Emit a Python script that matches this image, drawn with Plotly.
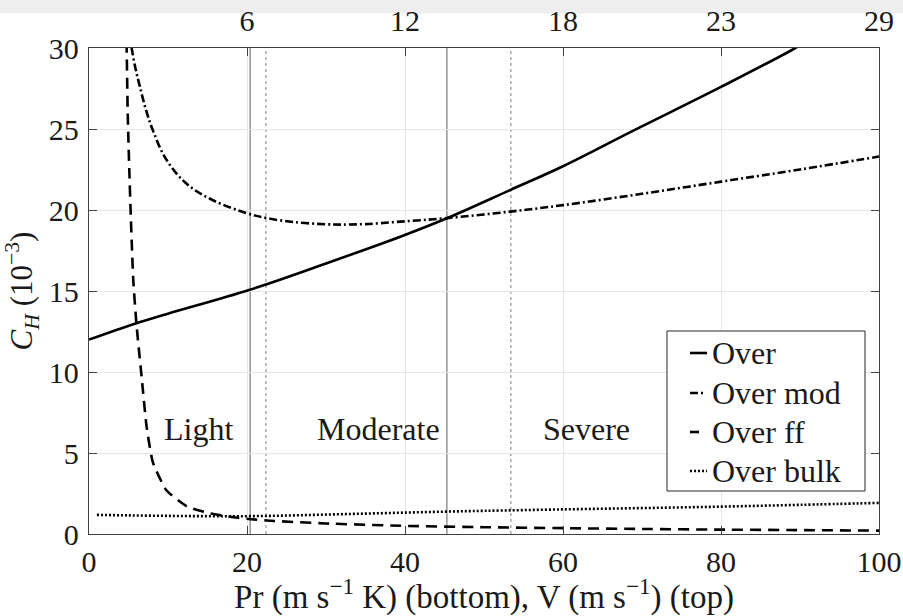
import plotly.graph_objects as go

# ---- data ----
over_x = [0, 5.9, 10, 20.25, 30, 39.4, 45.3, 53.3, 60, 68.9, 80, 89.4, 92]
over_y = [12.0, 13.0, 13.6, 15.06, 16.7, 18.35, 19.49, 21.23, 22.7, 24.9, 27.6, 30.0, 30.8]

mod_x = [5.1, 5.4, 5.9, 6.45, 7.2, 8.1, 9.8, 12.4, 15.7, 20, 22.5, 26, 30, 32, 35, 39.4, 45.3, 53.3, 60, 70, 80, 90, 100]
mod_y = [31.0, 30.0, 28.7, 27.6, 26.2, 24.9, 23.1, 21.6, 20.6, 19.8, 19.5, 19.25, 19.12, 19.1, 19.13, 19.28, 19.5, 19.9, 20.3, 21.0, 21.75, 22.5, 23.3]

ff_x = [4.7, 4.75, 4.9, 5.1, 5.3, 5.6, 6.0, 6.7, 7.3, 8.1, 9.8, 12.4, 15.3, 18.3, 20.2, 22.9, 30, 40, 50, 60, 70, 80, 90, 100]
ff_y = [31.5, 30.5, 26.0, 22.5, 19.5, 15.7, 13.0, 9.5, 6.6, 4.4, 2.7, 1.7, 1.28, 1.03, 0.93, 0.82, 0.65, 0.5, 0.42, 0.36, 0.31, 0.27, 0.24, 0.21]

bulk_x = [1, 5, 10, 15, 20, 25, 30, 35, 40, 45, 50, 60, 70, 80, 90, 100]
bulk_y = [1.18, 1.15, 1.12, 1.1, 1.1, 1.14, 1.2, 1.26, 1.32, 1.38, 1.43, 1.52, 1.6, 1.69, 1.8, 1.92]

series_names = ["Over", "Over mod", "Over ff", "Over bulk"]
series_dash = ["solid", "8px,3px,2px,3px", "11px,7px", "2px,2px"]

vlines_solid = [20.4, 45.3]
vlines_dashed = [22.4, 53.4]

region_labels = ["Light", "Moderate", "Severe"]
region_x = [13.8, 36.6, 63.0]
region_y = [6.5, 6.5, 6.5]

bottom_ticks = [0, 20, 40, 60, 80, 100]
top_tickvals = [20, 40, 60, 80, 100]
top_ticktext = ["6", "12", "18", "23", "29"]
y_ticks = [0, 5, 10, 15, 20, 25, 30]

FONT = "Liberation Serif"
FS_TICK = 30
FS_TXT = 32
TXT = "#1a1a1a"
LW = 2.6

fig = go.Figure()
xs = [over_x, mod_x, ff_x, bulk_x]
ys = [over_y, mod_y, ff_y, bulk_y]
smooth = [1.0, 1.0, 0.5, 1.0]
for name, x, y, d, s in zip(series_names, xs, ys, series_dash, smooth):
    fig.add_trace(go.Scatter(x=x, y=y, mode="lines", name=name, showlegend=False,
                             line=dict(color="black", width=LW, dash=d, shape="spline", smoothing=s)))
# invisible trace to drive the top axis
fig.add_trace(go.Scatter(x=[0, 100], y=[0, 0], mode="lines", xaxis="x2", showlegend=False,
                         hoverinfo="skip", line=dict(width=0, color="rgba(0,0,0,0)")))

for v in vlines_solid:
    fig.add_shape(type="line", x0=v, x1=v, y0=0, y1=30, xref="x", yref="y", layer="below",
                  line=dict(color="#8c8c8c", width=1.4))
for v in vlines_dashed:
    fig.add_shape(type="line", x0=v, x1=v, y0=0, y1=30, xref="x", yref="y", layer="below",
                  line=dict(color="#8c8c8c", width=1.1, dash="3px,3px"))

# grey strip at the top of the page
fig.add_shape(type="rect", xref="paper", yref="paper", x0=-0.2, x1=1.1, y0=1.071, y1=1.2,
              line=dict(width=0), fillcolor="#eeeeee", layer="below")

# ---- legend (MATLAB-style: short samples, boxed) ----
PLOT_L, PLOT_W, PLOT_B, PLOT_H = 89, 790, 534, 486
def px(xp):
    return (xp - PLOT_L) / PLOT_W
def py(yp):
    return (PLOT_B - yp) / PLOT_H

fig.add_shape(type="rect", xref="paper", yref="paper", x0=px(667), x1=px(865), y0=py(491), y1=py(331),
              line=dict(color="#262626", width=1), fillcolor="white", layer="above")
legend_rows = [353, 393, 432, 471]
sample_ends = [707, 706, 699, 707]
for name, d, yrow, xend in zip(series_names, series_dash, legend_rows, sample_ends):
    fig.add_shape(type="line", xref="paper", yref="paper", x0=px(690), x1=px(xend),
                  y0=py(yrow), y1=py(yrow), layer="above",
                  line=dict(color="black", width=LW, dash=d))
    fig.add_annotation(xref="paper", yref="paper", x=px(710), y=py(yrow), text=name,
                       showarrow=False, xanchor="left", yanchor="middle",
                       font=dict(family=FONT, size=FS_TXT, color=TXT))

for t, x, y in zip(region_labels, region_x, region_y):
    fig.add_annotation(x=x, y=y, text=t, showarrow=False, xanchor="center", yanchor="middle",
                       font=dict(family=FONT, size=FS_TXT, color=TXT))

axis_common = dict(ticks="inside", ticklen=8, tickcolor="#404040", tickwidth=1,
                   automargin=False, tickfont=dict(family=FONT, size=FS_TICK, color=TXT))

fig.update_layout(
    width=903, height=616,
    margin=dict(l=89, r=24, t=48, b=82),
    paper_bgcolor="white", plot_bgcolor="white",
    font=dict(family=FONT, size=FS_TXT, color=TXT),
    showlegend=False,
    xaxis=dict(range=[0, 100], tickvals=bottom_ticks, showgrid=True, gridcolor="#e6e6e6",
               gridwidth=1, showline=True, linecolor="#404040", linewidth=1.3, mirror=True,
               zeroline=False, ticklabelstandoff=1,
               title=dict(text="Pr (m s<sup>−1</sup> K) (bottom), V (m s<sup>−1</sup>) (top)",
                          font=dict(family=FONT, size=33, color=TXT), standoff=0),
               **axis_common),
    xaxis2=dict(range=[0, 100], overlaying="x", side="top", tickvals=top_tickvals,
                ticktext=top_ticktext, showgrid=False, showline=False, zeroline=False,
                ticklabelstandoff=10, **axis_common),
    yaxis=dict(range=[0, 30], tickvals=y_ticks, showgrid=True, gridcolor="#e6e6e6",
               gridwidth=1, showline=True, linecolor="#404040", linewidth=1.3, mirror="ticks",
               zeroline=False, ticklabelstandoff=3,
               title=dict(text="<i>C</i><sub><i>H</i></sub> (10<sup>−3</sup>)",
                          font=dict(family=FONT, size=31, color=TXT), standoff=9),
               **axis_common),
)

fig.write_html("out.html", config={"displayModeBar": False},
               post_script="document.body.style.margin='0px';")
